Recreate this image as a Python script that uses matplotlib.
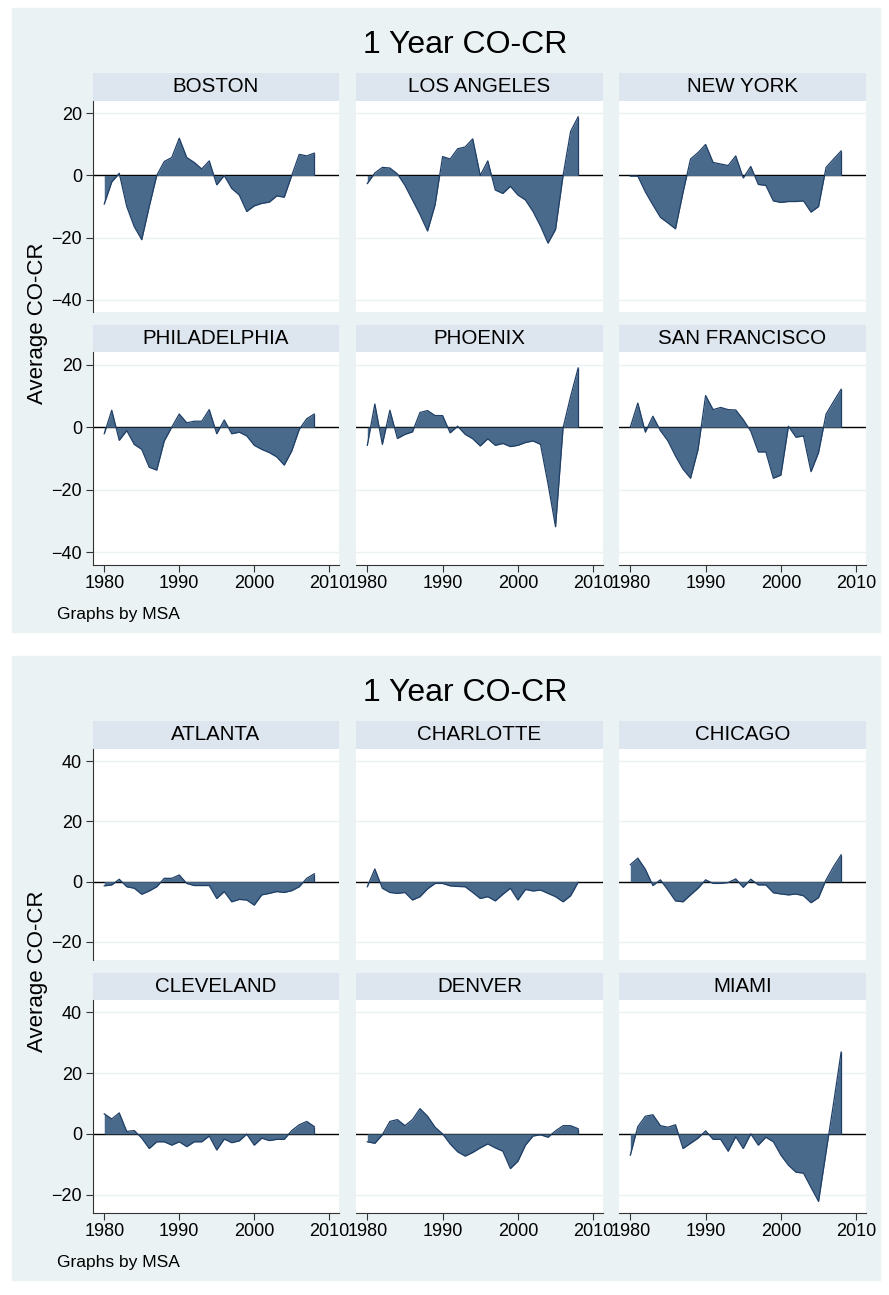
import matplotlib
matplotlib.use("Agg")
from matplotlib import pyplot as plt
from matplotlib.patches import Rectangle

plt.rcParams['font.family'] = ['Liberation Sans', 'DejaVu Sans']

years = list(range(1980, 2009))

# top figure
boston = [-9.2, -2.1, 0.7, -10, -16.5, -20.7, -10, 0, 4.5, 5.8, 12, 5.8, 4.2, 2.1, 4.7,
          -3, 0, -4.2, -6.3, -11.6, -9.8, -9, -8.6, -6.6, -7, 0, 6.8, 6.3, 7.2]
los_angeles = [-2.6, 0.8, 2.6, 2.4, 0.5, -3.2, -7.9, -12.6, -17.9, -9.5, 6.1, 5.3, 8.6, 9.2, 11.8,
               0, 4.7, -4.7, -5.8, -3.5, -6.3, -7.9, -11.6, -16.3, -21.8, -17.4, 0, 14.2, 18.9]
new_york = [-0.2, -0.2, -5.3, -9.5, -13.5, -15.3, -17.2, -5.5, 5.3, 7.4, 10, 4.2, 3.7, 3.2, 6.3,
            -0.8, 2.9, -2.9, -3.2, -8.2, -8.7, -8.4, -8.4, -8.2, -11.8, -10, 2.6, 5.3, 7.9]
philadelphia = [-2.1, 5.4, -4.2, -1.1, -5.5, -7.1, -12.8, -13.7, -4.4, 0, 4.2, 1.4, 1.9, 1.9, 5.6,
                -2.1, 2.3, -2.1, -1.6, -2.8, -5.8, -7.1, -8.1, -9.5, -12.1, -7.6, -0.7, 2.7, 4.2]
phoenix = [-5.8, 7.4, -5.5, 5.4, -3.6, -2.3, -1.5, 4.7, 5.3, 3.7, 3.7, -1.8, 0.3, -2.3, -3.7,
           -6, -3.7, -5.8, -5.2, -6.2, -5.8, -4.9, -4.4, -5.5, -18.1, -31.8, -0.2, 9.8, 18.9]
san_francisco = [0, 7.7, -1.6, 3.5, -1.1, -4.4, -9.2, -13.4, -16.3, -7.1, 10.1, 5.6, 6.3, 5.6, 5.5,
                 2.4, -1.3, -7.9, -7.9, -16.3, -15.3, 0.3, -3.2, -2.8, -14.2, -8.1, 4.2, 8.2, 12.1]

# bottom figure
atlanta = [-1.4, -1.1, 0.8, -1.7, -2.2, -4.2, -3.1, -1.7, 1.1, 1.1, 2.2, -0.6, -1.3, -1.3, -1.3,
           -5.6, -3.3, -6.7, -5.9, -6.1, -7.8, -4.4, -3.9, -3.3, -3.6, -3, -1.7, 1.1, 2.6]
charlotte = [-1.7, 4.2, -2.2, -3.6, -3.9, -3.6, -6.1, -5, -2.4, -0.6, -0.6, -1.4, -1.6, -1.7, -3.6,
             -5.6, -5, -6.4, -4.2, -2.2, -6.1, -2.6, -3.1, -2.8, -3.9, -5, -6.7, -4.7, -0.2]
chicago = [5.6, 7.8, 4.1, -1.3, 0.6, -2.8, -6.4, -6.7, -4.4, -2.2, 0.6, -0.6, -0.6, -0.3, 0.9,
           -1.9, 0.8, -1.1, -1.1, -3.7, -4.1, -4.4, -4.1, -4.7, -7, -5.3, 0.6, 5, 8.9]
cleveland = [6.6, 4.9, 6.9, 0.8, 1.1, -1.4, -4.8, -2.6, -2.6, -3.7, -2.6, -4.2, -2.6, -2.6, -0.7,
             -5.3, -1.7, -2.9, -2.3, -0.1, -3.7, -1.4, -2.2, -1.8, -1.8, 1.1, 3, 4.1, 2.4]
denver = [-2.6, -3.1, -0.3, 4.1, 4.7, 2.7, 4.7, 8.3, 5.8, 2.2, 0, -3.3, -5.9, -7.3, -6.1,
          -4.6, -3.3, -4.6, -5.7, -11.4, -9, -3.7, -0.7, -0.3, -1.1, 1, 2.7, 2.7, 1.7]
miami = [-7, 2.4, 5.8, 6.3, 2.7, 2.2, 3, -4.8, -3.1, -1.4, 1, -1.8, -1.8, -5.7, -0.9,
         -4.8, 0, -3.7, -1.1, -2.6, -7, -10.3, -12.6, -12.9, -17.6, -22.2, -5.9, 10.2, 26.9]

top_names = ['BOSTON', 'LOS ANGELES', 'NEW YORK', 'PHILADELPHIA', 'PHOENIX', 'SAN FRANCISCO']
top_series = [boston, los_angeles, new_york, philadelphia, phoenix, san_francisco]
bot_names = ['ATLANTA', 'CHARLOTTE', 'CHICAGO', 'CLEVELAND', 'DENVER', 'MIAMI']
bot_series = [atlanta, charlotte, chicago, cleveland, denver, miami]

W, H = 889, 1295
BG = '#eaf2f3'
STRIP = '#dde5ee'
FILL = '#4a6a8c'
EDGE = '#1f3f66'

fig = plt.figure(figsize=(W / 100, H / 100), dpi=100, facecolor='white')


def box(x0, y0, x1, y1):
    # pixel box (top-left origin) -> figure fraction
    return [x0 / W, 1 - y1 / H, (x1 - x0) / W, (y1 - y0) / H]


def draw_block(top, names, series, ylim, yticks):
    fig.patches.append(Rectangle((12 / W, 1 - (top + 624) / H), 868 / W, 624 / H,
                                 transform=fig.transFigure, color=BG, zorder=-10))
    fig.text(465 / W, 1 - (top + 37) / H, '1 Year CO-CR', ha='center', va='center', fontsize=23)
    cols = [(93, 339), (356, 603), (619, 866)]
    rows = [(65, 93, 304), (317, 344, 557)]
    for i, (name, vals) in enumerate(zip(names, series)):
        r, c = divmod(i, 3)
        x0, x1 = cols[c]
        s0, p0, p1 = rows[r]
        sax = fig.add_axes(box(x0, top + s0, x1, top + p0))
        sax.set_facecolor(STRIP)
        sax.set_xticks([])
        sax.set_yticks([])
        for sp in sax.spines.values():
            sp.set_visible(False)
        sax.text(0.5, 0.5, name, ha='center', va='center', fontsize=14.8, transform=sax.transAxes)

        ax = fig.add_axes(box(x0, top + p0, x1, top + p1))
        ax.set_facecolor('white')
        ax.fill_between(years, vals, 0, color=FILL, lw=0, zorder=3)
        ax.plot(years, vals, color=EDGE, lw=0.9, zorder=4)
        ax.vlines(years[-1], 0, vals[-1], color=EDGE, lw=0.9, zorder=4)
        ax.axhline(0, color='black', lw=1.0, zorder=2)
        ax.set_xlim(1978.5, 2011.3)
        ax.set_ylim(*ylim)
        ax.set_yticks(yticks)
        ax.set_xticks([1980, 1990, 2000, 2010])
        ax.grid(axis='y', color=BG, lw=1.0, zorder=1)
        for sp in ['top', 'right']:
            ax.spines[sp].set_visible(False)
        ax.spines['left'].set_visible(c == 0)
        ax.spines['bottom'].set_visible(r == 1)
        for sp in ['left', 'bottom']:
            ax.spines[sp].set_color('#333333')
        ax.tick_params(axis='y', left=(c == 0), labelleft=(c == 0), labelsize=13,
                       length=5, color='#333333', pad=3)
        ax.tick_params(axis='x', bottom=(r == 1), labelbottom=(r == 1), labelsize=13,
                       length=5, color='#333333', pad=2)
    fig.text(38 / W, 1 - (top + 315) / H, 'Average CO-CR', rotation=90,
             ha='center', va='center', fontsize=16)
    fig.text(57 / W, 1 - (top + 606) / H, 'Graphs by MSA', ha='left', va='center', fontsize=12.5)


draw_block(8, top_names, top_series, (-44, 24), [-40, -20, 0, 20])
draw_block(656, bot_names, bot_series, (-26, 44), [-20, 0, 20, 40])

fig.savefig('out.png', dpi=100, facecolor='white')
